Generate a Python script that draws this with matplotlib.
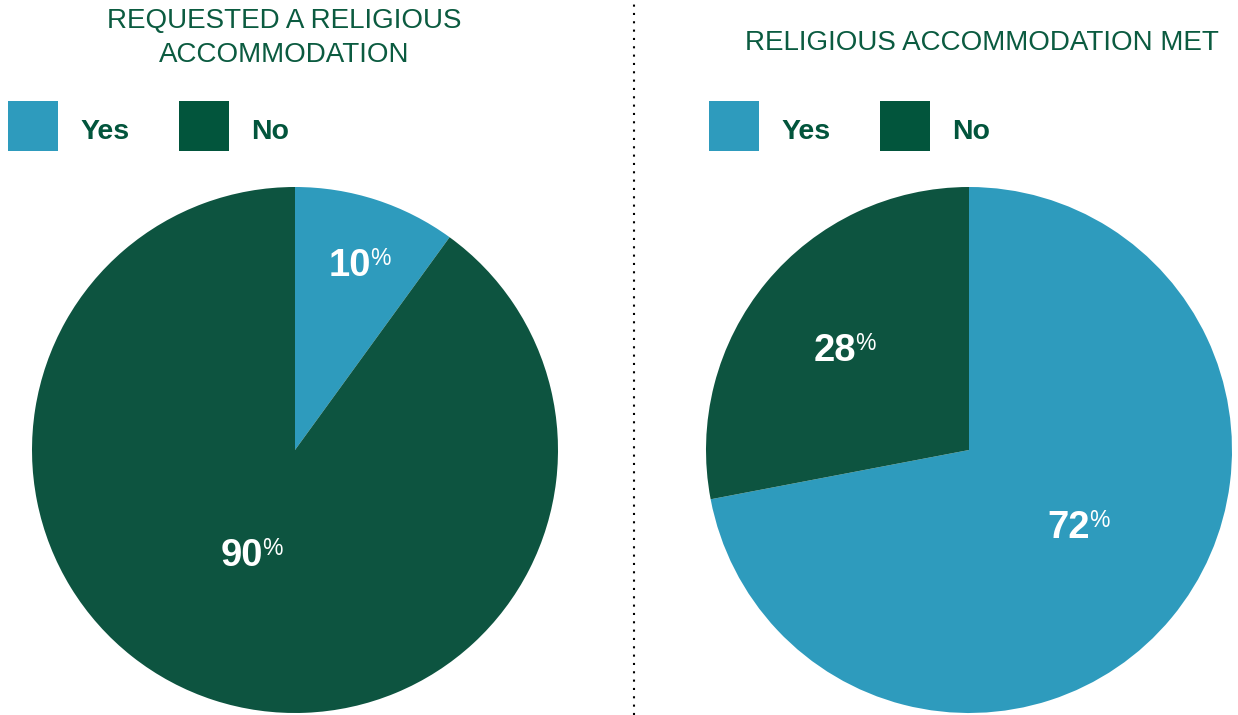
import matplotlib.pyplot as plt
from matplotlib.patches import Rectangle
import numpy as np

plt.rcParams["font.family"] = ["Liberation Sans", "DejaVu Sans"]

# survey shares, Yes first then No
categories = ["Yes", "No"]
requested = [10, 90]
met = [72, 28]
titles = ["REQUESTED A RELIGIOUS\nACCOMMODATION", "RELIGIOUS ACCOMMODATION MET"]

blue = "#2E9BBD"
green = "#0D5440"
legend_green = "#02553C"
title_green = "#0B5B40"

W, H = 1238, 715
fig = plt.figure(figsize=(W / 100, H / 100), dpi=100)


def px_axes(x0, y0, w, h):
    # axes placed in pixel units measured from the top-left corner
    return fig.add_axes([x0 / W, 1 - (y0 + h) / H, w / W, h / H])


def draw_pie(ax, values, label_pos):
    wedges, _ = ax.pie(values, colors=[blue, green], startangle=90,
                       counterclock=False, radius=1,
                       wedgeprops=dict(linewidth=0))
    for w, v, (r, dang) in zip(wedges, values, label_pos):
        mid = np.deg2rad((w.theta1 + w.theta2) / 2 + dang)
        x, y = r * np.cos(mid), r * np.sin(mid)
        num = ax.text(x, y, str(v), ha="center", va="center", color="white",
                      fontsize=27.5, fontweight="bold")
        ax.annotate("%", xy=(1.0, 1.0), xycoords=num, xytext=(-0.5, 0.5),
                    textcoords="offset points", ha="left", va="top",
                    color="white", fontsize=16.5)
    ax.set_xlim(-1, 1)
    ax.set_ylim(-1, 1)
    ax.set_aspect("equal")
    ax.axis("off")


# radius fraction and angle nudge for each label
left_ax = px_axes(32, 187, 526, 526)
draw_pie(left_ax, requested, [(0.73, 1.5), (0.45, -8.6)])

right_ax = px_axes(706, 187, 526, 526)
draw_pie(right_ax, met, [(0.48, 1.7), (0.635, 3.2)])

# titles
fig.text(284 / W, 1 - 38 / H, titles[0], ha="center", va="center",
         fontsize=20, color=title_green, linespacing=1.38)
fig.text(982 / W, 1 - 43 / H, titles[1], ha="center", va="center",
         fontsize=20, color=title_green)

# legends
for x0 in (8, 709):
    for i, (cat, col) in enumerate(zip(categories, [blue, legend_green])):
        bx = x0 + i * 171
        fig.patches.append(Rectangle((bx / W, 1 - 151 / H), 50 / W, 50 / H,
                                     transform=fig.transFigure,
                                     facecolor=col, edgecolor="none"))
        fig.text((bx + 72) / W, 1 - 132 / H, cat, ha="left", va="center",
                 fontsize=20.5, fontweight="bold", color=legend_green)

# dotted divider
fig.add_artist(plt.Line2D([634 / W, 634 / W], [0, 1], color="black",
                          linestyle=(0, (1, 3)), linewidth=1.5,
                          transform=fig.transFigure))

fig.savefig("out.png", dpi=100, facecolor="white")
